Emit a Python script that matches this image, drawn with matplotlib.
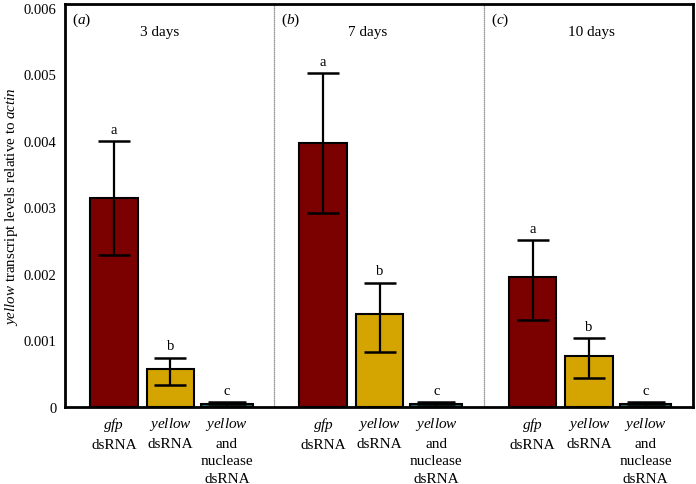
import matplotlib
matplotlib.use("Agg")
import matplotlib.pyplot as plt
import numpy as np

plt.rcParams['font.family'] = ['Liberation Serif', 'DejaVu Serif']
plt.rcParams['mathtext.fontset'] = 'custom'
plt.rcParams['mathtext.rm'] = 'Liberation Serif'
plt.rcParams['mathtext.it'] = 'Liberation Serif:italic'

panels = ['(a)', '(b)', '(c)']
panel_letters = ['a', 'b', 'c']
days = ['3 days', '7 days', '10 days']
treatments = ['gfp dsRNA', 'yellow dsRNA', 'yellow and nuclease dsRNA']
# values per panel: gfp, yellow, yellow+nuclease
means = [[0.00315, 0.000565, 0.00004],
         [0.00397, 0.00140, 0.00004],
         [0.00195, 0.00076, 0.00004]]
err_low = [[0.00228, 0.00033, 0.00001],
           [0.00292, 0.00083, 0.00001],
           [0.00131, 0.00043, 0.00001]]
err_high = [[0.00400, 0.00074, 0.00007],
            [0.00502, 0.00187, 0.00007],
            [0.00251, 0.00104, 0.00007]]
sig = [['a', 'b', 'c'], ['a', 'b', 'c'], ['a', 'b', 'c']]
yticks = [0, 0.001, 0.002, 0.003, 0.004, 0.005, 0.006]
ytick_labels = ['0', '0.001', '0.002', '0.003', '0.004', '0.005', '0.006']

colors = ['#7B0000', '#D4A500', '#2A6A6A']
offsets = [0.70, 1.51, 2.32]
widths = [0.68, 0.68, 0.74]
xlabels = ['$\\it{gfp}$\ndsRNA', '$\\it{yellow}$\ndsRNA', '$\\it{yellow}$\nand\nnuclease\ndsRNA']

fig = plt.figure(figsize=(6.96, 4.85), dpi=100)
ax = fig.add_axes([0.0934, 0.1588, 0.9023, 0.8309])

xt, xl = [], []
for p in range(3):
    for i in range(3):
        x = 3 * p + offsets[i]
        m = means[p][i]
        ax.bar(x, m, width=widths[i], color=colors[i], edgecolor='black', linewidth=1.5, zorder=2)
        lo = m - err_low[p][i]
        hi = err_high[p][i] - m
        ax.errorbar(x, m, yerr=[[lo], [hi]], fmt='none', ecolor='black', elinewidth=1.6,
                    capsize=11.8 if i < 2 else 14, capthick=1.8, zorder=3)
        ax.text(x, err_high[p][i] + 0.00008, sig[p][i], ha='center', va='bottom', fontsize=10.5)
        xt.append(x)
        xl.append(xlabels[i])
    ax.text(3 * p + 0.1, 0.00583, '(' + '$\\it{' + panel_letters[p] + '}$' + ')',
            ha='left', va='center', fontsize=11)
    ax.text(3 * p + [1.35, 1.33, 1.55][p], 0.00564, days[p], ha='center', va='center', fontsize=11)

for xv in [3, 6]:
    ax.axvline(xv, color='#777777', linewidth=0.9, linestyle=(0, (1, 0.6)), zorder=1)

ax.set_xlim(0, 9)
ax.set_ylim(0, 0.00606)
ax.set_yticks(yticks)
ax.set_yticklabels(ytick_labels, fontsize=10.5)
ax.set_xticks(xt)
ax.set_xticklabels(xl, fontsize=11, va='top', linespacing=1.45)
ax.tick_params(axis='both', length=0, pad=6)
ax.tick_params(axis='x', pad=6)
for s in ax.spines.values():
    s.set_linewidth(2)
ax.set_ylabel('$\\it{yellow}$ transcript levels relative to $\\it{actin}$', fontsize=10.8, labelpad=3)

fig.savefig('out.png', dpi=100)
